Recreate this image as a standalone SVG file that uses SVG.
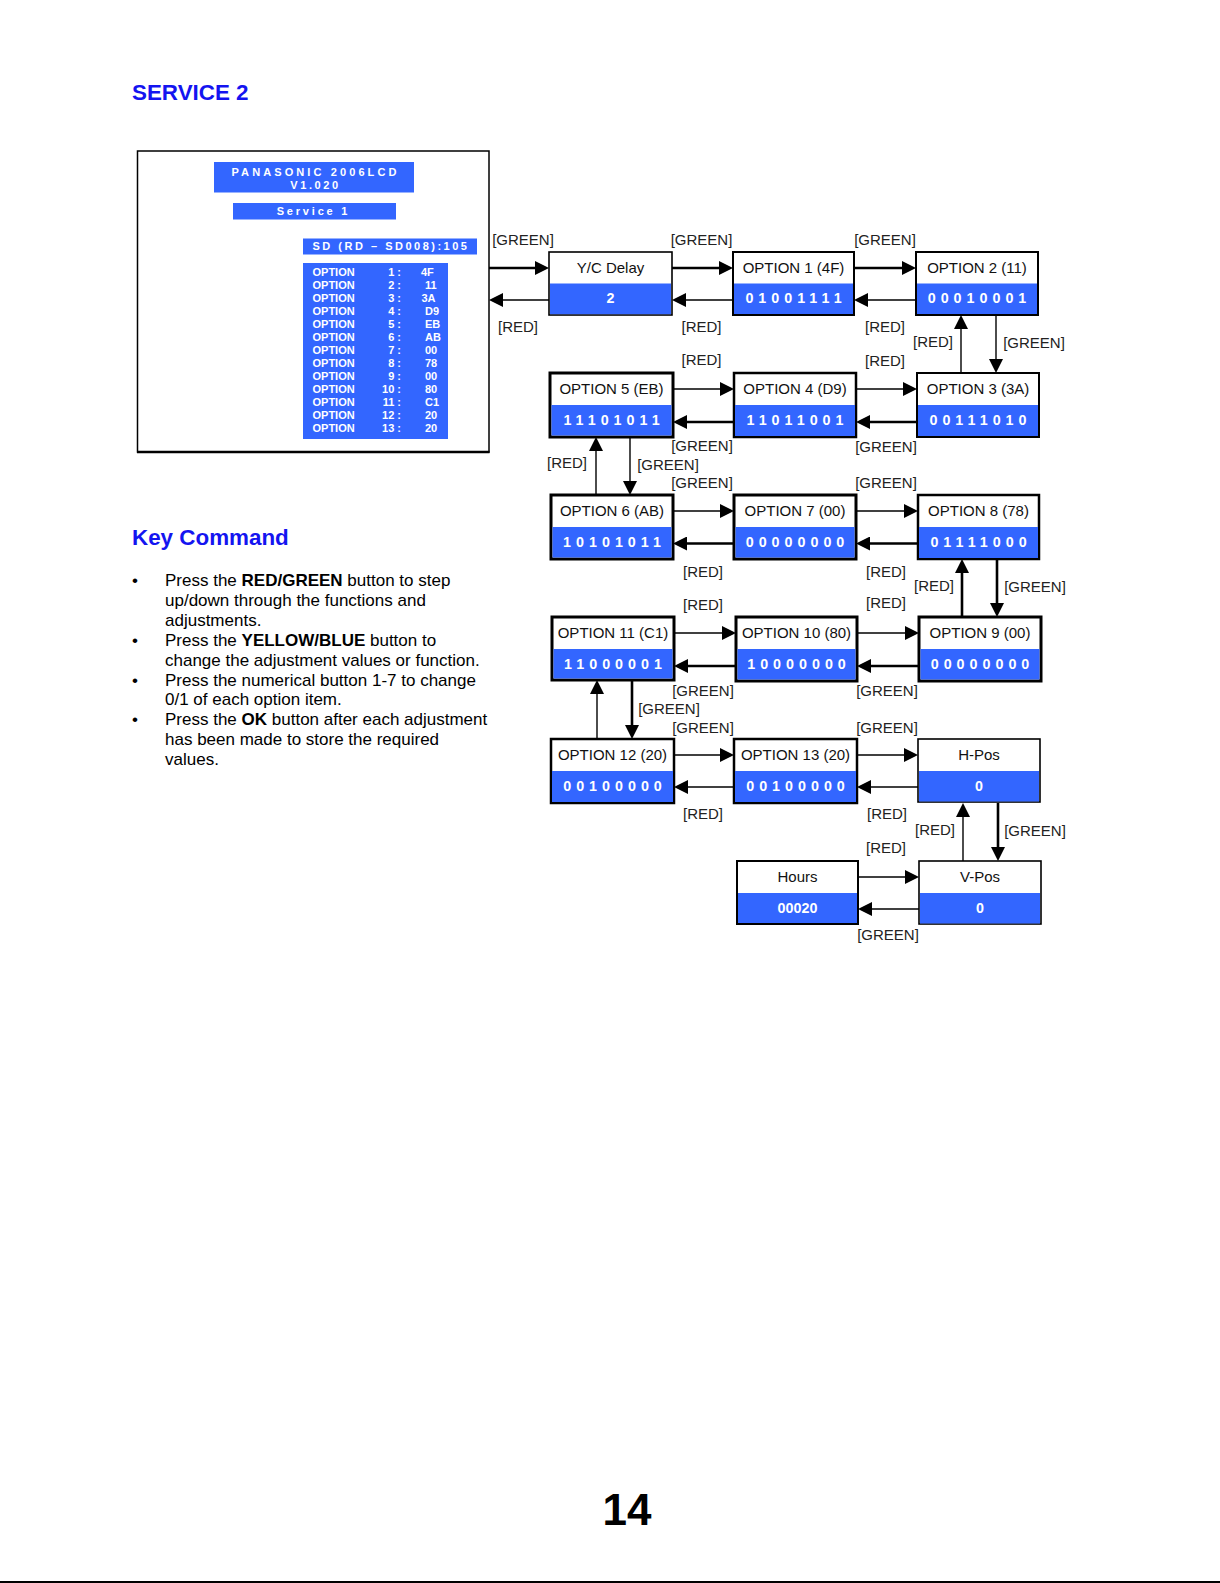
<svg xmlns="http://www.w3.org/2000/svg" width="1220" height="1583" viewBox="0 0 1220 1583">
<style>
text{font-family:"Liberation Sans",Arial,sans-serif}
.bx{fill:#fff;stroke:#000}
.bl{fill:#3366ff}
.tt{font-size:15px;fill:#111;text-anchor:middle}
.vv{font-size:14.3px;font-weight:bold;fill:#fff;text-anchor:middle;letter-spacing:5px}
.v0{font-size:14.3px;font-weight:bold;fill:#fff;text-anchor:middle}
.lb{font-size:15px;fill:#222;text-anchor:middle}
.th{stroke:#000;stroke-width:2.6;fill:none}
.tn{stroke:#000;stroke-width:1.4;fill:none}
.pn{font-size:11px;font-weight:bold;fill:#fff}
.hd{font-size:22.4px;font-weight:bold;fill:#1414f0}
.kc{font-size:17px;fill:#000}
</style>
<defs>
<marker id="ah" viewBox="0 0 14 14" refX="8" refY="7" markerWidth="14" markerHeight="14" markerUnits="userSpaceOnUse" orient="auto"><path d="M0,0L14,7L0,14z" fill="#000"/></marker>
</defs>
<rect width="1220" height="1583" fill="#fff"/>

<text class="hd" x="132" y="100">SERVICE 2</text>

<g id="panel">
<rect x="137.5" y="151" width="351.5" height="301" fill="#fff" stroke="#000" stroke-width="1.5"/>
<line x1="137" y1="452" x2="489.5" y2="452" stroke="#000" stroke-width="2.5"/>
<rect x="214" y="162" width="200" height="30.5" class="bl"/>
<text class="pn" x="315.5" y="175.5" text-anchor="middle" letter-spacing="3.1">PANASONIC 2006LCD</text>
<text class="pn" x="315.5" y="189" text-anchor="middle" letter-spacing="2.6">V1.020</text>
<rect x="233" y="203" width="163" height="16.5" class="bl"/>
<text class="pn" x="313.5" y="215" text-anchor="middle" letter-spacing="2.8">Service 1</text>
<rect x="303" y="238.5" width="174" height="16" class="bl"/>
<text class="pn" x="391" y="250" text-anchor="middle" letter-spacing="2.5" font-size="10.5px">SD (RD – SD008):105</text>
<rect x="303" y="263" width="145" height="176" class="bl"/>
<g class="pn">
<text x="312.5" y="276.3">OPTION</text><text x="401" y="276.3" text-anchor="end">1 :</text><text x="421" y="276.3">4F</text>
<text x="312.5" y="289.3">OPTION</text><text x="401" y="289.3" text-anchor="end">2 :</text><text x="425" y="289.3">11</text>
<text x="312.5" y="302.3">OPTION</text><text x="401" y="302.3" text-anchor="end">3 :</text><text x="421.5" y="302.3">3A</text>
<text x="312.5" y="315.3">OPTION</text><text x="401" y="315.3" text-anchor="end">4 :</text><text x="425" y="315.3">D9</text>
<text x="312.5" y="328.3">OPTION</text><text x="401" y="328.3" text-anchor="end">5 :</text><text x="425" y="328.3">EB</text>
<text x="312.5" y="341.3">OPTION</text><text x="401" y="341.3" text-anchor="end">6 :</text><text x="425" y="341.3">AB</text>
<text x="312.5" y="354.3">OPTION</text><text x="401" y="354.3" text-anchor="end">7 :</text><text x="425" y="354.3">00</text>
<text x="312.5" y="367.3">OPTION</text><text x="401" y="367.3" text-anchor="end">8 :</text><text x="425" y="367.3">78</text>
<text x="312.5" y="380.3">OPTION</text><text x="401" y="380.3" text-anchor="end">9 :</text><text x="425" y="380.3">00</text>
<text x="312.5" y="393.3">OPTION</text><text x="401" y="393.3" text-anchor="end">10 :</text><text x="425" y="393.3">80</text>
<text x="312.5" y="406.3">OPTION</text><text x="401" y="406.3" text-anchor="end">11 :</text><text x="425" y="406.3">C1</text>
<text x="312.5" y="419.3">OPTION</text><text x="401" y="419.3" text-anchor="end">12 :</text><text x="425" y="419.3">20</text>
<text x="312.5" y="432.3">OPTION</text><text x="401" y="432.3" text-anchor="end">13 :</text><text x="425" y="432.3">20</text>
</g>
</g>

<g id="keycommand">
<text class="hd" x="132" y="544.5">Key Command</text>
<g class="kc">
<text x="132" y="586">•</text>
<text x="165" y="586">Press the <tspan font-weight="bold">RED/GREEN</tspan> button to step</text>
<text x="165" y="605.9">up/down through the functions and</text>
<text x="165" y="625.8">adjustments.</text>
<text x="132" y="645.7">•</text>
<text x="165" y="645.7">Press the <tspan font-weight="bold">YELLOW/BLUE</tspan> button to</text>
<text x="165" y="665.6">change the adjustment values or function.</text>
<text x="132" y="685.5">•</text>
<text x="165" y="685.5">Press the numerical button 1-7 to change</text>
<text x="165" y="705.4">0/1 of each option item.</text>
<text x="132" y="725.3">•</text>
<text x="165" y="725.3">Press the <tspan font-weight="bold">OK</tspan> button after each adjustment</text>
<text x="165" y="745.2">has been made to store the required</text>
<text x="165" y="765.1">values.</text>
</g>
</g>

<g id="connectors" marker-end="url(#ah)">
<line class="th" x1="489" y1="268" x2="543" y2="268"/>
<line class="tn" x1="549" y1="300" x2="495" y2="300"/>
<line class="th" x1="672" y1="268" x2="727" y2="268"/>
<line class="tn" x1="733" y1="300" x2="678" y2="300"/>
<line class="th" x1="854" y1="268" x2="910" y2="268"/>
<line class="tn" x1="916" y1="300" x2="860" y2="300"/>
<line class="tn" x1="961" y1="373" x2="961" y2="321"/>
<line class="tn" x1="996" y1="315" x2="996" y2="367"/>
<line class="tn" x1="673" y1="389" x2="728" y2="389"/>
<line class="th" x1="734" y1="422" x2="679" y2="422"/>
<line class="tn" x1="856" y1="389" x2="911" y2="389"/>
<line class="th" x1="917" y1="422" x2="862" y2="422"/>
<line class="tn" x1="596" y1="495" x2="596" y2="443"/>
<line class="tn" x1="630" y1="437" x2="630" y2="489"/>
<line class="tn" x1="673" y1="511" x2="728" y2="511"/>
<line class="th" x1="734" y1="543.5" x2="679" y2="543.5"/>
<line class="tn" x1="856" y1="511" x2="912" y2="511"/>
<line class="th" x1="918" y1="543.5" x2="862" y2="543.5"/>
<line class="th" x1="962" y1="617" x2="962" y2="565"/>
<line class="th" x1="997" y1="559" x2="997" y2="611"/>
<line class="tn" x1="674" y1="633" x2="730" y2="633"/>
<line class="th" x1="736" y1="666" x2="680" y2="666"/>
<line class="tn" x1="857" y1="633" x2="913" y2="633"/>
<line class="th" x1="919" y1="666" x2="863" y2="666"/>
<line class="tn" x1="597" y1="739" x2="597" y2="686"/>
<line class="th" x1="632" y1="680" x2="632" y2="733"/>
<line class="tn" x1="674" y1="755" x2="728" y2="755"/>
<line class="tn" x1="734" y1="787" x2="680" y2="787"/>
<line class="tn" x1="857" y1="755" x2="912" y2="755"/>
<line class="tn" x1="918" y1="787" x2="863" y2="787"/>
<line class="tn" x1="963" y1="861" x2="963" y2="809"/>
<line class="th" x1="998" y1="803" x2="998" y2="855"/>
<line class="tn" x1="858" y1="877" x2="913" y2="877"/>
<line class="tn" x1="919" y1="909" x2="864" y2="909"/>
</g>

<g id="labels" class="lb">
<text x="523" y="245">[GREEN]</text>
<text x="701.5" y="245">[GREEN]</text>
<text x="885" y="245">[GREEN]</text>
<text x="518" y="332">[RED]</text>
<text x="701.5" y="332">[RED]</text>
<text x="885" y="332">[RED]</text>
<text x="933" y="347">[RED]</text>
<text x="1034" y="348">[GREEN]</text>
<text x="701.5" y="365">[RED]</text>
<text x="885" y="366">[RED]</text>
<text x="702" y="451">[GREEN]</text>
<text x="886" y="452">[GREEN]</text>
<text x="567" y="468">[RED]</text>
<text x="668" y="470">[GREEN]</text>
<text x="702" y="488">[GREEN]</text>
<text x="886" y="488">[GREEN]</text>
<text x="703" y="577">[RED]</text>
<text x="886" y="577">[RED]</text>
<text x="934" y="591">[RED]</text>
<text x="1035" y="592">[GREEN]</text>
<text x="703" y="610">[RED]</text>
<text x="886" y="608">[RED]</text>
<text x="703" y="696">[GREEN]</text>
<text x="887" y="696">[GREEN]</text>
<text x="669" y="714">[GREEN]</text>
<text x="703" y="733">[GREEN]</text>
<text x="887" y="733">[GREEN]</text>
<text x="703" y="819">[RED]</text>
<text x="887" y="819">[RED]</text>
<text x="935" y="835">[RED]</text>
<text x="1035" y="836">[GREEN]</text>
<text x="886" y="853">[RED]</text>
<text x="888" y="940">[GREEN]</text>
</g>

<g id="n-ycdelay"><rect class="bx" x="549" y="252" width="123" height="63" stroke-width="1.6"/><rect class="bl" x="550" y="283.5" width="121" height="30.7"/><text class="tt" x="610.5" y="272.5">Y/C Delay</text><text class="v0" x="610.5" y="303">2</text></g>
<g id="n-opt1"><rect class="bx" x="733" y="252" width="121" height="63" stroke-width="2"/><rect class="bl" x="734" y="283.5" width="119" height="30.5"/><text class="tt" x="793.5" y="272.5">OPTION 1 (4F)</text><text class="vv" x="796" y="303">01001111</text></g>
<g id="n-opt2"><rect class="bx" x="916" y="252" width="122" height="63" stroke-width="2"/><rect class="bl" x="917" y="283.5" width="120" height="30.5"/><text class="tt" x="977" y="272.5">OPTION 2 (11)</text><text class="vv" x="979.5" y="303">00010001</text></g>
<g id="n-opt3"><rect class="bx" x="917" y="373" width="122" height="64" stroke-width="2"/><rect class="bl" x="918" y="405" width="120" height="31"/><text class="tt" x="978" y="393.5">OPTION 3 (3A)</text><text class="vv" x="980.5" y="424.5">00111010</text></g>
<g id="n-opt4"><rect class="bx" x="734" y="373" width="122" height="64" stroke-width="2.5"/><rect class="bl" x="735" y="405" width="120" height="31"/><text class="tt" x="795" y="393.5">OPTION 4 (D9)</text><text class="vv" x="797.5" y="424.5">11011001</text></g>
<g id="n-opt5"><rect class="bx" x="550" y="373" width="123" height="64" stroke-width="3"/><rect class="bl" x="551.5" y="405" width="120" height="30.5"/><text class="tt" x="611.5" y="393.5">OPTION 5 (EB)</text><text class="vv" x="614" y="424.5">11101011</text></g>
<g id="n-opt6"><rect class="bx" x="551" y="495" width="122" height="64" stroke-width="3"/><rect class="bl" x="552.5" y="527" width="119" height="30.5"/><text class="tt" x="612" y="515.5">OPTION 6 (AB)</text><text class="vv" x="614.5" y="546.5">10101011</text></g>
<g id="n-opt7"><rect class="bx" x="734" y="495" width="122" height="64" stroke-width="3"/><rect class="bl" x="735.5" y="527" width="119" height="30.5"/><text class="tt" x="795" y="515.5">OPTION 7 (00)</text><text class="vv" x="797.5" y="546.5">00000000</text></g>
<g id="n-opt8"><rect class="bx" x="918" y="495" width="121" height="64" stroke-width="2.5"/><rect class="bl" x="919" y="527" width="119" height="31"/><text class="tt" x="978.5" y="515.5">OPTION 8 (78)</text><text class="vv" x="981" y="546.5">01111000</text></g>
<g id="n-opt9"><rect class="bx" x="919" y="617" width="122" height="64" stroke-width="3"/><rect class="bl" x="920.5" y="649" width="119" height="30.5"/><text class="tt" x="980" y="637.5">OPTION 9 (00)</text><text class="vv" x="982.5" y="668.5">00000000</text></g>
<g id="n-opt10"><rect class="bx" x="736" y="617" width="121" height="64" stroke-width="3"/><rect class="bl" x="737.5" y="649" width="118" height="30.5"/><text class="tt" x="796.5" y="637.5">OPTION 10 (80)</text><text class="vv" x="799" y="668.5">10000000</text></g>
<g id="n-opt11"><rect class="bx" x="552" y="617" width="122" height="63" stroke-width="3"/><rect class="bl" x="553.5" y="649" width="119" height="29.5"/><text class="tt" x="613" y="637.5">OPTION 11 (C1)</text><text class="vv" x="615.5" y="668.5">11000001</text></g>
<g id="n-opt12"><rect class="bx" x="551" y="739" width="123" height="64" stroke-width="2.5"/><rect class="bl" x="552" y="771" width="121" height="31"/><text class="tt" x="612.5" y="759.5">OPTION 12 (20)</text><text class="vv" x="615" y="790.5">00100000</text></g>
<g id="n-opt13"><rect class="bx" x="734" y="739" width="123" height="64" stroke-width="2.5"/><rect class="bl" x="735" y="771" width="121" height="31"/><text class="tt" x="795.5" y="759.5">OPTION 13 (20)</text><text class="vv" x="798" y="790.5">00100000</text></g>
<g id="n-hpos"><rect class="bx" x="918" y="739" width="122" height="63" stroke-width="1.6"/><rect class="bl" x="919" y="771" width="120" height="30.5"/><text class="tt" x="979" y="759.5">H-Pos</text><text class="v0" x="979" y="790.5">0</text></g>
<g id="n-vpos"><rect class="bx" x="919" y="861" width="122" height="63" stroke-width="1.6"/><rect class="bl" x="920" y="893" width="120" height="30.5"/><text class="tt" x="980" y="881.5">V-Pos</text><text class="v0" x="980" y="912.5">0</text></g>
<g id="n-hours"><rect class="bx" x="737" y="861" width="121" height="63" stroke-width="2"/><rect class="bl" x="738" y="893" width="119" height="30"/><text class="tt" x="797.5" y="881.5">Hours</text><text class="v0" x="797.5" y="912.5">00020</text></g>

<text x="627" y="1525" font-size="44px" font-weight="bold" text-anchor="middle" fill="#000">14</text>
<rect x="0" y="1581" width="1220" height="2" fill="#000"/>
</svg>
